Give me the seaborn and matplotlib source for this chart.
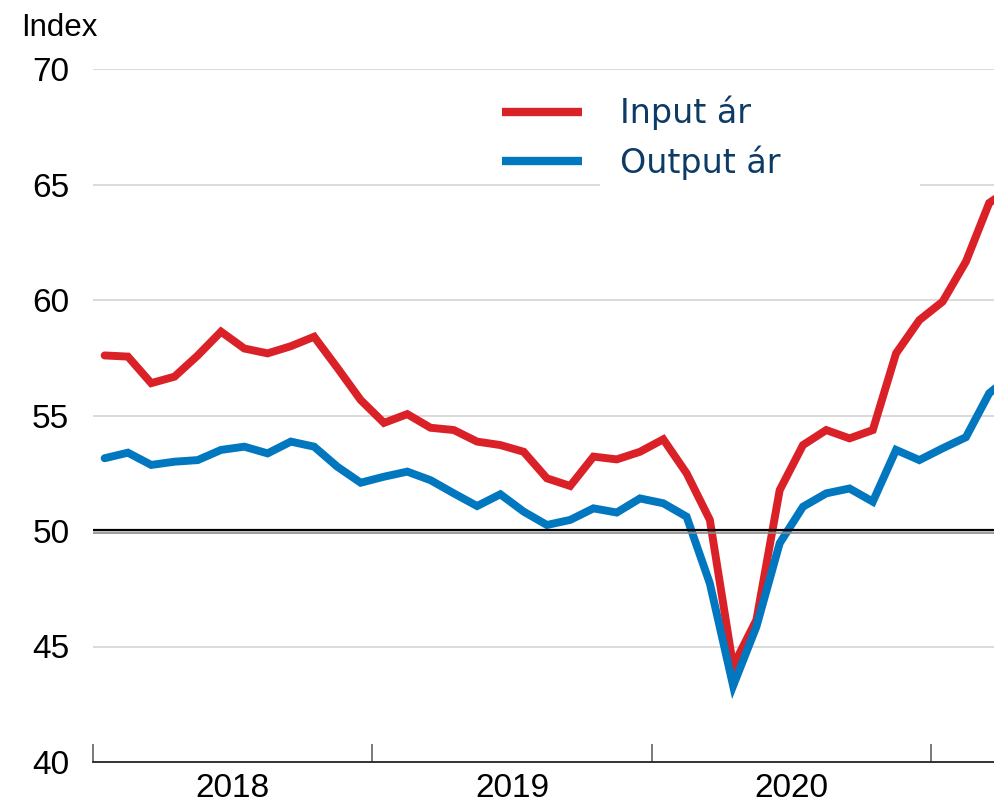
import matplotlib
matplotlib.use("Agg")
import matplotlib.pyplot as plt
from matplotlib.patches import Rectangle
from matplotlib.lines import Line2D
import seaborn as sns
import pandas as pd
import numpy as np

# ---- data (monthly, Jan 2018 .. Apr 2021) ----
months = pd.period_range("2018-01", "2021-04", freq="M").astype(str).tolist()
input_price = [57.6, 57.55, 56.4, 56.68, 57.6, 58.63, 57.9, 57.69, 58.0, 58.41, 57.06, 55.67,
               54.68, 55.06, 54.47, 54.37, 53.87, 53.72, 53.43, 52.28, 51.95, 53.22, 53.1, 53.43,
               53.97, 52.5, 50.48, 44.15, 46.15, 51.77, 53.72, 54.37, 54.01, 54.37, 57.69, 59.13,
               59.93, 61.66, 64.2, 64.9]
output_price = [53.15, 53.39, 52.86, 53.0, 53.07, 53.51, 53.65, 53.36, 53.87, 53.65, 52.78, 52.09,
                52.35, 52.57, 52.2, 51.63, 51.08, 51.59, 50.84, 50.26, 50.48, 50.98, 50.8, 51.41,
                51.2, 50.62, 47.73, 43.3, 45.86, 49.47, 51.05, 51.63, 51.84, 51.27, 53.51, 53.07,
                53.58, 54.06, 55.96, 56.8]
series_names = ["Input ár", "Output ár"]
colors = ["#da2128", "#0077bf"]
year_labels = ["2018", "2019", "2020"]
y_ticks = [40, 45, 50, 55, 60, 65, 70]

idx = np.arange(len(months))
df = pd.DataFrame({
    "idx": np.concatenate([idx, idx]),
    "value": input_price + output_price,
    "series": [series_names[0]] * len(idx) + [series_names[1]] * len(idx),
})

sns.set_theme(style="white")
plt.rcParams["font.family"] = ["Liberation Sans", "DejaVu Sans"]
plt.rcParams["text.color"] = "black"
plt.rcParams["xtick.color"] = "black"
plt.rcParams["ytick.color"] = "black"

fig = plt.figure(figsize=(9.95, 8.06), dpi=100)
ax = fig.add_axes([93 / 995, 1 - 762 / 806, 1 - 93 / 995, (762 - 69) / 806])

sns.lineplot(data=df, x="idx", y="value", hue="series", hue_order=series_names,
             palette=colors, linewidth=5.7, ax=ax, legend=False, zorder=3,
             solid_joinstyle="miter")

ax.set_xlim(-0.5, 38.25)
ax.set_ylim(40, 70)

# grid
for yv in y_ticks[1:]:
    ax.axhline(yv, color="#d4d4d4", lw=1.2, zorder=1)
ax.axhline(49.9, color="#8a8a8a", lw=1.2, zorder=5)
ax.axhline(50.03, color="black", lw=1.6, zorder=5)

# white legend backing
ax.add_patch(Rectangle((600 / 995, 1 - 192 / 806), 320 / 995, 115 / 806,
                       transform=fig.transFigure, facecolor="white", edgecolor="none",
                       zorder=1.5))

# spines
for s in ["top", "right", "left"]:
    ax.spines[s].set_visible(False)
ax.spines["bottom"].set_color("#222222")
ax.spines["bottom"].set_linewidth(1.3)

# x ticks
ax.set_xticks([-0.5, 11.5, 23.5, 35.5])
ax.set_xticklabels([])
ax.tick_params(axis="x", which="major", direction="in", length=13, width=1.1,
               color="#555555", bottom=True)
ax.set_xticks([5.5, 17.5, 29.5], minor=True)
ax.set_xticklabels(year_labels, minor=True, fontsize=24)
ax.tick_params(axis="x", which="minor", length=0, pad=8)

# y ticks
ax.set_yticks(y_ticks)
ax.set_yticklabels([str(v) for v in y_ticks], fontsize=24)
ax.tick_params(axis="y", length=0, pad=17)
ax.set_xlabel("")
ax.set_ylabel("")

fig.text(21 / 995, 1 - 28 / 806, "Index", fontsize=22.5, ha="left", va="center")

# legend
handles = [Line2D([0], [0], color=c, lw=6, solid_capstyle="butt") for c in colors]
leg = fig.legend(handles, series_names, loc="upper left",
                 bbox_to_anchor=(472 / 995, 1 - 66 / 806), frameon=False,
                 handlelength=2.4, handletextpad=1.15, labelspacing=0.45,
                 prop={"family": "DejaVu Sans", "size": 24})
for t in leg.get_texts():
    t.set_color("#0d3b66")

fig.savefig("out.png", dpi=100)
